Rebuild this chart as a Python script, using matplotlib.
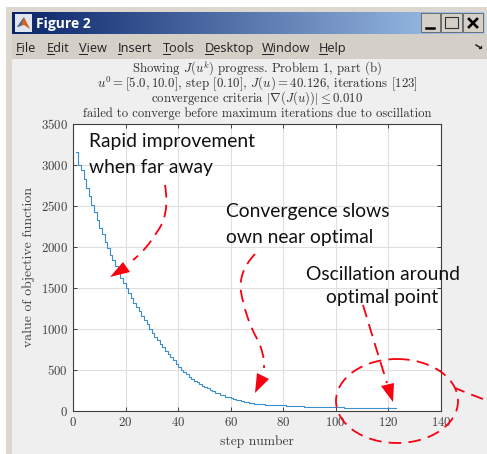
import matplotlib
matplotlib.use('Agg')
import matplotlib.pyplot as plt
from matplotlib.patches import Rectangle, Polygon, Ellipse, PathPatch
from matplotlib.path import Path
import numpy as np

plt.rcParams['mathtext.fontset'] = 'cm'
plt.rcParams['axes.formatter.use_mathtext'] = True

# objective function per step
values = [3150, 3000, 2930, 2820, 2710, 2620, 2510, 2420, 2320, 2230,
          2150, 2060, 1985, 1905, 1835, 1760, 1690, 1620, 1560, 1495,
          1440, 1380, 1320, 1265, 1215, 1160, 1110, 1060, 1000, 950,
          905, 860, 815, 775, 730, 695, 655, 615, 575, 535,
          500, 470, 445, 420, 395, 370, 350, 330, 310, 290,
          275, 255, 240, 225, 215, 200, 190, 175, 165, 155,
          148, 140, 130, 122, 115, 108, 102, 96, 90, 85,
          82, 80, 78, 76, 75, 73, 72, 70, 69, 68,
          66, 64, 62, 60, 58, 56, 55, 54, 53, 52,
          50, 48, 46, 45, 45, 44, 44, 44, 43, 43,
          43, 43, 42, 42, 42, 42, 42, 41, 41, 41,
          41, 41, 41, 41, 40, 40, 40, 40, 40, 40,
          40, 40, 40]
steps = list(range(1, len(values) + 1))
xticks = [0, 20, 40, 60, 80, 100, 120, 140]
yticks = [0, 500, 1000, 1500, 2000, 2500, 3000, 3500]
menu = ['File', 'Edit', 'View', 'Insert', 'Tools', 'Desktop', 'Window', 'Help']
menu_x = [16, 47, 79, 118, 163, 205, 262, 319]
menu_w = [6, 7, 8, 3, 7, 8, 11, 8]
title_lines = [r'Showing $J(u^k)$ progress. Problem 1, part (b)',
               r'$u^0=[5.0,10.0]$, step $[0.10]$, $J(u)=40.126$, iterations $[123]$',
               r'convergence criteria $|\nabla(J(u))|\leq 0.010$',
               'failed to converge before maximum iterations due to oscillation']
title_y = [72.5, 87, 102, 117]
title_size = [9.2, 9.3, 9.2, 9.05]

W, H = 487, 454
RED = '#f80010'
fig = plt.figure(figsize=(W / 100, H / 100), dpi=100, facecolor='white')

# window chrome, in pixel coordinates
bg = fig.add_axes([0, 0, 1, 1], zorder=0)
bg.set_xlim(0, W)
bg.set_ylim(H, 0)
bg.axis('off')
bg.add_patch(Rectangle((6, 7), 481, 447, fc='#dcd8d0', ec='none'))
bg.add_patch(Rectangle((12, 59), 475, 395, fc='#efefef', ec='none'))
bg.add_patch(Rectangle((12, 34), 475, 25, fc='#d4d0c8', ec='none'))
grad = np.linspace(0, 1, 256).reshape(1, -1)
cmap = matplotlib.colors.LinearSegmentedColormap.from_list('tb', ['#0a246a', '#a6caf0'])
bg.imshow(grad, extent=(12, 485, 34, 12), cmap=cmap, aspect='auto', zorder=1)
bg.set_xlim(0, W)
bg.set_ylim(H, 0)
bg.add_patch(Rectangle((15, 14), 17, 18, fc='#dfe6ef', ec='none', zorder=2))
bg.add_patch(Polygon([(17, 27), (24, 17), (30, 29), (24, 25)], fc='#d9601a', ec='none', zorder=3))
bg.add_patch(Polygon([(17, 27), (24, 17), (21, 26)], fc='#3a6ea5', ec='none', zorder=3))
bg.text(36, 28, 'Figure 2', color='white', fontsize=10, fontweight='bold',
        family='Open Sans', va='baseline', zorder=3)
for x0, w in [(421, 19), (441, 21), (463, 20)]:
    bg.add_patch(Rectangle((x0, 13), w, 19, fc='#d4d0c8', ec='#606060', lw=0.6, zorder=2))
bg.plot([426, 434], [28, 28], color='black', lw=1.8, zorder=3)
bg.add_patch(Rectangle((445, 17), 13, 11, fc='none', ec='#303030', lw=0.8, zorder=3))
bg.plot([469, 477], [19, 27], color='black', lw=1.9, zorder=3)
bg.plot([469, 477], [27, 19], color='black', lw=1.9, zorder=3)
for name, x0, w in zip(menu, menu_x, menu_w):
    bg.text(x0, 52, name, fontsize=9.2, family='Open Sans', color='#202020', va='baseline')
    bg.plot([x0, x0 + w], [54, 54], color='#202020', lw=0.7)
bg.plot([476, 481], [45, 48], color='#202020', lw=1.1)
bg.plot([479, 481, 481], [48, 48, 46], color='#202020', lw=0.9)
for line, y, size in zip(title_lines, title_y, title_size):
    bg.text(257, y, line, fontsize=size, family='cmr10', color='#303030',
            ha='center', va='baseline')

# the plot itself
ax = fig.add_axes([73 / W, 1 - 411 / H, (441 - 73) / W, (411 - 123.5) / H], zorder=1)
ax.step(steps, values, where='post', color='#3a8fd0', lw=0.8)
ax.set_xlim(0, 140)
ax.set_ylim(0, 3500)
ax.set_xticks(xticks)
ax.set_yticks(yticks)
ax.grid(True, color='#dfdfdf', lw=0.8)
ax.set_axisbelow(True)
ax.tick_params(direction='in', top=True, right=True, length=3, width=0.7, color='#404040',
               labelcolor='#404040', labelsize=9.3, pad=3.5)
for lab in ax.get_xticklabels() + ax.get_yticklabels():
    lab.set_family('cmr10')
for s in ax.spines.values():
    s.set_color('#404040')
    s.set_linewidth(0.8)
ax.set_xlabel('step number', family='cmr10', fontsize=9.8, color='#404040', labelpad=4.5)
ax.set_ylabel('value of objective function', family='cmr10', fontsize=9.9, color='#404040', labelpad=4)

# callouts on top, in pixel coordinates
ov = fig.add_axes([0, 0, 1, 1], zorder=2)
ov.set_xlim(0, W)
ov.set_ylim(H, 0)
ov.axis('off')
ov.patch.set_alpha(0)
note = dict(family='Lato', fontsize=13.9, color='#111111', va='center')
ov.text(89, 142, 'Rapid improvement', **note)
ov.text(89, 167, 'when far away', **note)
ov.text(226, 212, 'Convergence slows', **note)
ov.text(226, 237, 'own near optimal', **note)
ov.text(306, 274, 'Oscillation around', **note)
ov.text(326, 298, 'optimal point', **note)


def dashed(pts):
    codes = [Path.MOVETO] + [Path.CURVE3] * (len(pts) - 1)
    ov.add_patch(PathPatch(Path(pts, codes), fc='none', ec=RED, lw=1.3, ls=(0, (7, 4))))


dashed([(165, 185), (170, 215), (157, 232), (146, 250), (133, 260)])
dashed([(255, 254), (238, 272), (241, 292), (245, 315), (255, 335), (265, 352), (264, 368)])
dashed([(363, 305), (375, 345), (387, 383)])
ov.add_patch(Ellipse((397, 401), 122, 84, fc='none', ec=RED, lw=1.3, ls=(0, (7, 4))))
dashed([(483, 399), (469, 394), (455, 388)])
ov.add_patch(Polygon([(110, 277), (123, 262), (130, 272)], fc=RED, ec='none'))
ov.add_patch(Polygon([(257, 373), (269, 379), (255, 393)], fc=RED, ec='none'))
ov.add_patch(Polygon([(381, 386), (394, 383), (393, 402)], fc=RED, ec='none'))

fig.savefig('out.png', dpi=100)
